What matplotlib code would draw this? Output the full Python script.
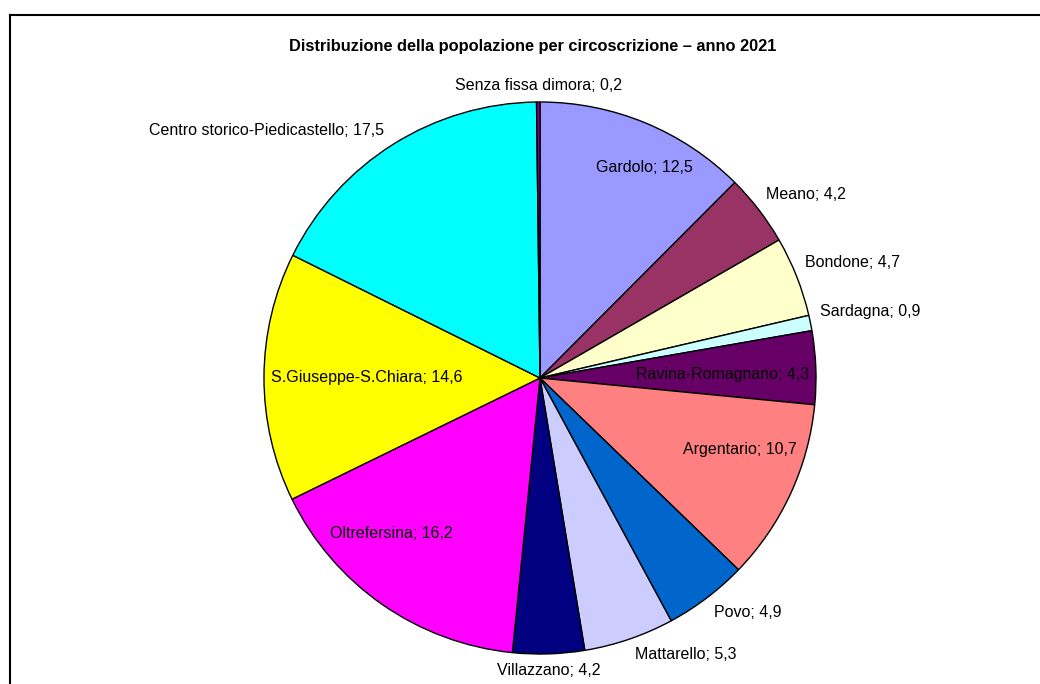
import numpy as np
import matplotlib
matplotlib.use("Agg")
import matplotlib.pyplot as plt
from matplotlib.lines import Line2D

plt.rcParams['font.family'] = ['Liberation Sans', 'DejaVu Sans']

# Data (clockwise from 12 o'clock)
labels = ["Gardolo", "Meano", "Bondone", "Sardagna", "Ravina-Romagnano",
          "Argentario", "Povo", "Mattarello", "Villazzano", "Oltrefersina",
          "S.Giuseppe-S.Chiara", "Centro storico-Piedicastello", "Senza fissa dimora"]
values = [12.5, 4.2, 4.7, 0.9, 4.3, 10.7, 4.9, 5.3, 4.2, 16.2, 14.6, 17.5, 0.2]
colors = ["#9999FF", "#993366", "#FFFFCC", "#CCFFFF", "#660066",
          "#FF8080", "#0066CC", "#CCCCFF", "#000080", "#FF00FF",
          "#FFFF00", "#00FFFF", "#800080"]

# label placement: radial factor, angle nudge (deg), horizontal alignment
label_r = [0.85, 1.054, 1.047, 1.042, 0.66, 0.77, 1.057, 1.06, 1.06, 0.78, 0.627, 1.06, 1.06]
label_da = [-4, 1.5, 1.9, 1.8, -1.0, 5, -0.6, 0, 0, -9, 0, 0, 0]
label_ha = ["center", "left", "left", "left", "center", "center", "left", "left",
            "center", "center", "center", "right", "center"]

W, H = 1040, 684
fig = plt.figure(figsize=(W / 100, H / 100), dpi=100)

cx, cy, R = 540, 378, 276
ax = fig.add_axes([(cx - R) / W, (H - cy - R) / H, 2 * R / W, 2 * R / H])
wedges, _ = ax.pie(values, colors=colors, startangle=90, counterclock=False,
                   radius=1.0, center=(0, 0),
                   wedgeprops=dict(edgecolor="black", linewidth=1.0))
ax.set_xlim(-1, 1)
ax.set_ylim(-1, 1)
ax.set_aspect('auto')
ax.axis('off')

for w, lab, v, r, da, ha in zip(wedges, labels, values, label_r, label_da, label_ha):
    mid = np.deg2rad((w.theta1 + w.theta2) / 2 + da)
    txt = f"{lab}; {str(v).replace('.', ',')}"
    ax.text(r * np.cos(mid), r * np.sin(mid), txt, ha=ha, va="center",
            fontsize=11.5, color="black", clip_on=False)

fig.text(533 / W, 1 - 47 / H,
         "Distribuzione della popolazione per circoscrizione \u2013 anno 2021",
         ha="center", va="center", fontsize=11.8, fontweight="bold")

# outer chart frame (cropped at right and bottom)
x0, y0 = 9.5 / W, 1 - 14.5 / H
fig.add_artist(Line2D([x0, x0], [y0, -0.05], transform=fig.transFigure,
                      color="black", linewidth=1.5))
fig.add_artist(Line2D([x0, 1.05], [y0, y0], transform=fig.transFigure,
                      color="black", linewidth=1.5))

fig.savefig("out.png", dpi=100, facecolor="white")
